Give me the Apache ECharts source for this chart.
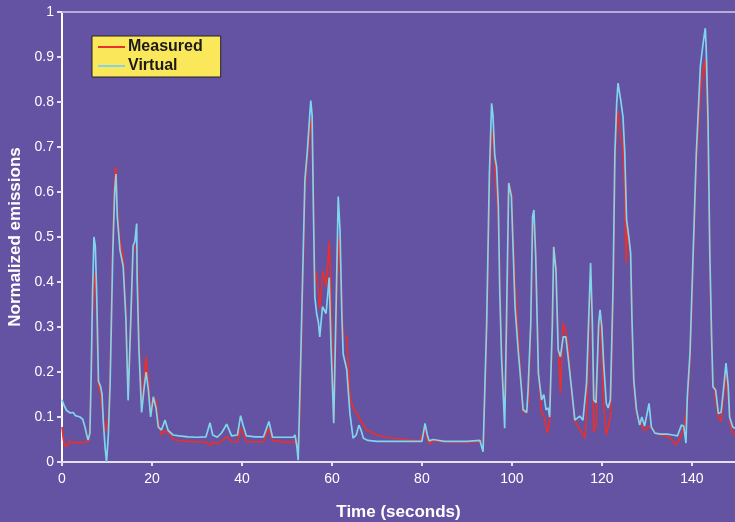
<!DOCTYPE html>
<html lang="en">
<head>
<meta charset="utf-8">
<title>Measured vs Virtual emissions</title>
<script src="https://cdn.jsdelivr.net/npm/echarts@6/dist/echarts.min.js"></script>
<style>
  html, body { margin: 0; padding: 0; background: #6452a2; }
  #chart { width: 735px; height: 522px; }
</style>
</head>
<body>
<div id="chart"></div>
<script type="text/javascript">
// [time (s), normalized emission]
var measured = [
  [0,0.078],[0.3,0.05],[0.7,0.034],[1,0.03],[1.4,0.04],[1.8,0.047],[2.5,0.043],[4,0.043],[5.9,0.045],
  [6.3,0.1],[6.7,0.3],[7.1,0.42],[7.4,0.40],[7.7,0.33],[8.1,0.17],[8.6,0.15],[9,0.11],[9.5,0.075],[9.8,0.07],
  [10.3,0.1],[10.7,0.2],[11.3,0.5],[11.7,0.63],[12,0.656],[12.3,0.56],[12.9,0.49],[13.6,0.46],[14.2,0.33],
  [14.7,0.15],[15.3,0.3],[15.8,0.47],[16.6,0.48],[16.8,0.42],[17.1,0.28],[17.7,0.12],[18.2,0.18],[18.7,0.234],
  [19.2,0.18],[19.7,0.11],[20.3,0.13],[20.9,0.14],[21.4,0.09],[22.1,0.06],[22.9,0.07],[23.6,0.065],[24.7,0.05],
  [26,0.048],[28,0.046],[30,0.045],[32,0.044],[33,0.037],[33.6,0.045],[34.5,0.04],[35.5,0.047],[36.6,0.057],
  [37.7,0.045],[39,0.045],[39.7,0.075],[40.3,0.06],[41,0.046],[43,0.045],[44.8,0.045],[46,0.075],[46.8,0.048],
  [49,0.044],[51.4,0.044],[52.2,0.044],[52.6,0.035],[53,0.15],[53.3,0.3],[54,0.6],[54.5,0.67],[55.3,0.76],
  [55.6,0.74],[55.9,0.58],[56.2,0.40],[56.6,0.42],[57.3,0.34],[58,0.425],[58.7,0.39],[59.4,0.49],[59.9,0.33],
  [60.2,0.16],[60.4,0.09],[60.9,0.3],[61.5,0.50],[61.8,0.46],[62.2,0.34],[62.6,0.28],[63.3,0.278],[64,0.145],
  [64.7,0.12],[65.5,0.108],[66.5,0.09],[67.7,0.071],[70,0.06],[72.1,0.055],[76,0.05],[79.6,0.047],[80.7,0.075],
  [81.2,0.05],[81.8,0.04],[82.5,0.048],[84,0.046],[90,0.044],[92.9,0.045],[93.7,0.05],[94.4,0.28],[95,0.6],
  [95.5,0.738],[96,0.70],[96.6,0.597],[97,0.54],[97.3,0.40],[97.7,0.25],[98.2,0.14],[98.5,0.13],[98.9,0.3],
  [99.3,0.62],[99.9,0.6],[100.7,0.4],[101.4,0.278],[101.9,0.2],[102.5,0.11],[103.3,0.11],[103.7,0.14],[104.2,0.3],
  [104.6,0.5],[104.9,0.54],[105.3,0.47],[105.9,0.2],[106.6,0.11],[107.2,0.10],[107.9,0.064],[108.4,0.09],[109,0.3],
  [109.3,0.48],[109.8,0.43],[110.3,0.26],[110.8,0.153],[111.4,0.308],[112,0.29],[112.5,0.26],[113.3,0.15],[114,0.09],
  [114.6,0.082],[115.5,0.065],[116.3,0.053],[116.8,0.15],[117.2,0.35],[117.5,0.42],[117.9,0.28],[118.2,0.067],
  [118.7,0.08],[119.3,0.3],[119.6,0.33],[120,0.25],[120.4,0.13],[121,0.06],[121.4,0.058],[121.9,0.1],[122.5,0.35],
  [122.9,0.65],[123.3,0.75],[123.6,0.78],[124.2,0.723],[124.7,0.70],[125.1,0.6],[125.4,0.442],[125.6,0.53],[126,0.49],
  [126.4,0.45],[126.7,0.3],[127.1,0.17],[127.7,0.11],[128.4,0.09],[129.5,0.07],[130.5,0.08],[131,0.075],[131.8,0.065],
  [133,0.06],[135,0.055],[136.5,0.038],[137.2,0.05],[137.7,0.06],[138.5,0.09],[139,0.13],[139.6,0.22],[140.3,0.44],
  [141,0.66],[141.9,0.82],[142.5,0.87],[142.9,0.893],[143.2,0.85],[143.6,0.72],[144,0.44],[144.4,0.26],[144.7,0.18],
  [145.3,0.14],[145.9,0.1],[146.5,0.09],[147.1,0.15],[147.6,0.2],[148.1,0.14],[148.6,0.08],[149.1,0.065],[149.6,0.06]
];

var virtual = [
  [0,0.138],[0.5,0.125],[1,0.115],[1.8,0.109],[2.5,0.11],[3,0.103],[4,0.1],[4.6,0.095],[5.1,0.078],[5.5,0.06],
  [5.8,0.049],[6.2,0.064],[6.5,0.2],[6.8,0.38],[7.1,0.50],[7.4,0.48],[7.7,0.38],[8.1,0.18],[8.6,0.167],[8.9,0.15],
  [9.2,0.087],[9.6,0.03],[9.9,0.0],[10.3,0.06],[10.7,0.175],[11.3,0.47],[11.7,0.6],[12,0.64],[12.3,0.545],[12.9,0.47],
  [13.6,0.435],[14.2,0.32],[14.7,0.137],[15.3,0.32],[15.8,0.48],[16.2,0.49],[16.6,0.53],[16.7,0.41],[17.1,0.25],
  [17.7,0.11],[18.2,0.16],[18.7,0.20],[19.2,0.16],[19.7,0.10],[20.3,0.145],[20.9,0.12],[21.4,0.078],[22.1,0.071],
  [22.9,0.093],[23.6,0.07],[24.7,0.06],[26,0.058],[28,0.056],[30,0.055],[32,0.056],[32.9,0.087],[33.5,0.06],
  [34.5,0.055],[35.5,0.065],[36.6,0.084],[37.7,0.058],[39,0.06],[39.7,0.103],[40.3,0.08],[41,0.058],[43,0.056],
  [44.8,0.056],[46,0.09],[46.8,0.055],[49,0.055],[51.4,0.055],[51.8,0.06],[52.2,0.035],[52.5,0.004],[53,0.2],
  [53.3,0.33],[54,0.627],[54.5,0.686],[55,0.76],[55.3,0.803],[55.6,0.77],[55.9,0.553],[56.2,0.367],[56.6,0.33],
  [57,0.31],[57.3,0.278],[57.9,0.345],[58.7,0.33],[59.4,0.41],[59.8,0.256],[60.2,0.145],[60.4,0.086],[60.9,0.33],
  [61.4,0.59],[61.8,0.515],[62.2,0.33],[62.5,0.24],[63.3,0.205],[64,0.108],[64.7,0.053],[65.4,0.06],[66,0.082],
  [66.5,0.07],[67,0.053],[68,0.048],[70,0.046],[75,0.046],[80,0.046],[80.7,0.086],[81.2,0.06],[81.6,0.047],
  [82.5,0.05],[85,0.046],[90,0.046],[92.9,0.048],[93.6,0.023],[94.4,0.308],[95,0.64],[95.5,0.797],[95.8,0.77],
  [96.2,0.68],[96.6,0.656],[97,0.567],[97.3,0.382],[97.7,0.234],[98.2,0.123],[98.4,0.075],[98.8,0.308],[99.3,0.62],
  [99.9,0.59],[100.7,0.345],[101.4,0.249],[101.9,0.19],[102.5,0.116],[103.3,0.11],[103.6,0.16],[104.2,0.308],
  [104.6,0.545],[104.9,0.56],[105.3,0.456],[105.9,0.197],[106.6,0.138],[107.1,0.15],[107.6,0.116],[108.1,0.12],
  [108.4,0.10],[109,0.308],[109.3,0.478],[109.8,0.427],[110.3,0.249],[110.8,0.234],[111.4,0.278],[112,0.278],
  [112.5,0.234],[113.3,0.16],[114,0.093],[115.1,0.102],[115.8,0.093],[116.6,0.175],[117.2,0.353],[117.5,0.442],
  [117.9,0.308],[118.2,0.138],[118.7,0.132],[119.3,0.308],[119.6,0.338],[120,0.30],[120.4,0.22],[121,0.13],
  [121.4,0.12],[121.9,0.138],[122.5,0.39],[122.9,0.686],[123.3,0.797],[123.6,0.842],[124.2,0.804],[124.7,0.767],
  [125.1,0.686],[125.5,0.538],[126,0.50],[126.4,0.464],[126.7,0.316],[127.1,0.182],[127.7,0.116],[128.4,0.082],
  [128.9,0.10],[129.5,0.08],[130.5,0.13],[131,0.078],[131.8,0.064],[133,0.062],[134.5,0.062],[135.8,0.06],
  [136.8,0.058],[137.7,0.082],[138.2,0.08],[138.7,0.042],[139,0.145],[139.6,0.242],[140.3,0.464],[141,0.686],
  [141.9,0.879],[142.5,0.93],[143,0.964],[143.2,0.92],[143.6,0.76],[144,0.464],[144.4,0.278],[144.7,0.167],
  [145.3,0.16],[145.9,0.108],[146.5,0.11],[147.1,0.167],[147.6,0.22],[148.1,0.167],[148.4,0.1],[149.1,0.078],[149.6,0.075]
];

var seriesNames = ['Measured', 'Virtual'];
var seriesColors = ['#e8302c', '#80d4ec'];

var chart = echarts.init(document.getElementById('chart'));
var font = '"Liberation Sans", Arial, sans-serif';

var option = {
  backgroundColor: '#6452a2',
  animation: false,
  grid: { left: 62, right: 0, top: 12, bottom: 60, outerBoundsMode: 'none' },
  legend: {
    left: 92, top: 36,
    orient: 'vertical',
    data: seriesNames,
    icon: 'rect',
    itemWidth: 27, itemHeight: 2, itemGap: 3,
    padding: [3, 18, 3, 6],
    backgroundColor: '#fbe85a',
    borderColor: '#222', borderWidth: 1,
    textStyle: { color: '#1a1a1a', fontWeight: 'bold', fontSize: 16, fontFamily: font, padding: [0, 0, 0, -2] }
  },
  xAxis: [{
    type: 'value',
    min: 0, max: 149.6, interval: 20,
    name: 'Time (seconds)',
    nameLocation: 'middle', nameGap: 42,
    nameTextStyle: { color: '#fff', fontWeight: 'bold', fontSize: 17, fontFamily: font },
    axisLine: { lineStyle: { color: '#e4e0f2', width: 2 } },
    axisTick: { length: 4, lineStyle: { color: '#e4e0f2', width: 2 } },
    axisLabel: { color: '#fff', fontSize: 14, fontFamily: font, margin: 10, showMaxLabel: false },
    splitLine: { show: false }
  }, {
    type: 'value', position: 'top',
    min: 0, max: 149.6,
    axisLine: { lineStyle: { color: '#b5acd8', width: 2 } },
    axisTick: { show: false }, axisLabel: { show: false }, splitLine: { show: false }
  }],
  yAxis: {
    type: 'value',
    min: 0, max: 1, interval: 0.1,
    name: 'Normalized emissions',
    nameLocation: 'middle', nameGap: 36,
    nameTextStyle: { color: '#fff', fontWeight: 'bold', fontSize: 17, fontFamily: font },
    axisLine: { show: true, lineStyle: { color: '#ffffff', width: 2 } },
    axisTick: { show: true, length: 5, lineStyle: { color: '#e4e0f2', width: 2 } },
    axisLabel: { color: '#fff', fontSize: 14, fontFamily: font, margin: 8 },
    splitLine: { show: false }
  },
  series: [{
    name: seriesNames[0],
    type: 'line',
    data: measured,
    showSymbol: false,
    color: seriesColors[0],
    lineStyle: { width: 1.7, color: seriesColors[0] }
  }, {
    name: seriesNames[1],
    type: 'line',
    data: virtual,
    showSymbol: false,
    color: seriesColors[1],
    lineStyle: { width: 1.7, color: seriesColors[1] }
  }]
};

chart.setOption(option);
</script>
</body>
</html>
